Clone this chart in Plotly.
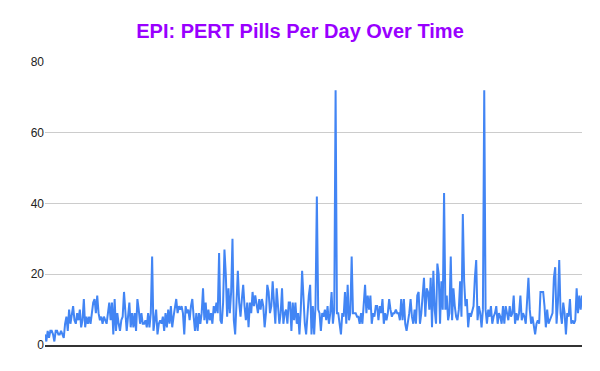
import plotly.graph_objects as go

# Pills per day, one value per day, in order
pills_part1 = [3, 1, 4, 2, 4, 4, 3, 1, 4, 4, 3, 3, 4, 3, 2, 6, 8, 4, 10, 6,
               9, 11, 7, 6, 9, 7, 10, 5, 7, 13, 5, 8, 6, 8, 6, 9, 12, 13, 9, 14,
               9, 7, 8, 6, 8, 7, 6, 9, 12, 7, 12, 3, 13, 4, 9, 6, 4, 7, 8, 15,
               10, 4, 8, 12, 5, 9, 5, 9, 4, 13, 10, 6, 9, 6, 6, 7, 5, 9, 5, 9,
               25, 4, 7, 10, 3, 6, 7, 6, 8, 4, 9, 5, 10, 6, 11, 5, 8, 11, 13, 9,
               11, 10, 11, 9, 3, 11, 9, 10, 7, 11, 13, 8, 4, 9, 4, 9, 6, 9, 16, 7,
               12, 6, 10, 7, 9, 6, 11, 9, 12, 9, 26, 7, 6, 12, 27]
pills_part2 = [20, 8, 16, 9, 15, 30, 7, 3, 12, 21, 12, 8, 13, 17, 11, 7, 12, 5, 12, 9,
               15, 11, 14, 11, 9, 13, 10, 13, 11, 5, 9, 17, 15, 9, 11, 18, 12, 6, 16, 10,
               6, 9, 16, 6, 9, 10, 6, 12, 12, 4, 12, 7, 12, 6, 9, 3, 10, 21, 11, 6,
               3, 9, 14, 17, 3, 11, 3, 11, 42, 10, 9, 4, 9, 8, 10, 7, 11, 6, 9, 15,
               6, 10, 72, 9, 9, 6, 3, 9, 8, 15, 6, 17, 7, 9, 25, 9, 9, 9, 8, 8,
               6, 9, 6, 11, 17, 9, 14, 10, 14, 6, 9, 8, 11, 11, 7, 11, 9, 13, 6, 9,
               7, 9, 13, 10, 8, 9, 9, 10, 9, 9, 7, 13, 7, 13]
pills_part3 = [6, 4, 6, 9, 13, 8, 6, 10, 6, 14, 15, 6, 9, 13, 19, 8, 16, 15, 10, 19,
               5, 21, 10, 6, 23, 20, 6, 18, 10, 43, 10, 14, 7, 9, 25, 7, 16, 11, 8, 7,
               10, 18, 8, 37, 18, 11, 13, 5, 9, 8, 10, 11, 19, 24, 7, 11, 9, 5, 10, 72,
               10, 6, 10, 8, 11, 6, 8, 9, 11, 6, 9, 8, 6, 11, 6, 11, 9, 7, 11, 8,
               9, 14, 6, 9, 7, 9, 14, 7, 9, 8, 6, 12, 19, 10, 6, 8, 5, 3, 6, 7,
               6, 15, 15, 15, 11, 5, 10, 6, 7, 8, 9, 19, 22, 6, 12, 24, 9, 6, 12, 9,
               3, 9, 8, 13, 6, 7, 6, 7, 16, 9, 14, 10, 14]

pills = pills_part1 + pills_part2 + pills_part3
days = list(range(len(pills)))

y_ticks = [0, 20, 40, 60, 80]

fig = go.Figure()
fig.add_trace(go.Scatter(
    x=days, y=pills, mode="lines",
    line=dict(color="#4285F4", width=2),
    hoverinfo="x+y",
))

fig.update_layout(
    width=600, height=371,
    margin=dict(l=45, r=18, t=62, b=26),
    paper_bgcolor="white", plot_bgcolor="white",
    showlegend=False,
    title=dict(
        text="<b>EPI: PERT Pills Per Day Over Time</b>",
        x=0.5, xanchor="center", y=0.917, yanchor="middle",
        font=dict(family="Liberation Sans, Arial, sans-serif", size=20, color="#9900FF"),
    ),
    font=dict(family="Liberation Sans, Arial, sans-serif", size=12, color="#222222"),
)
fig.update_xaxes(
    range=[0, len(pills) - 1], showticklabels=False, showgrid=False,
    zeroline=False, showline=True, linecolor="#333333", linewidth=1.5,
    ticks="",
)
fig.update_yaxes(
    range=[0, 80], tickvals=y_ticks, showgrid=True, gridcolor="#cccccc",
    gridwidth=1, zeroline=False, showline=False, ticks="",
    tickfont=dict(size=12, color="#222222"),
)

fig.write_html("out.html", config={"displayModeBar": False},
               post_script="document.body.style.margin='0';")
